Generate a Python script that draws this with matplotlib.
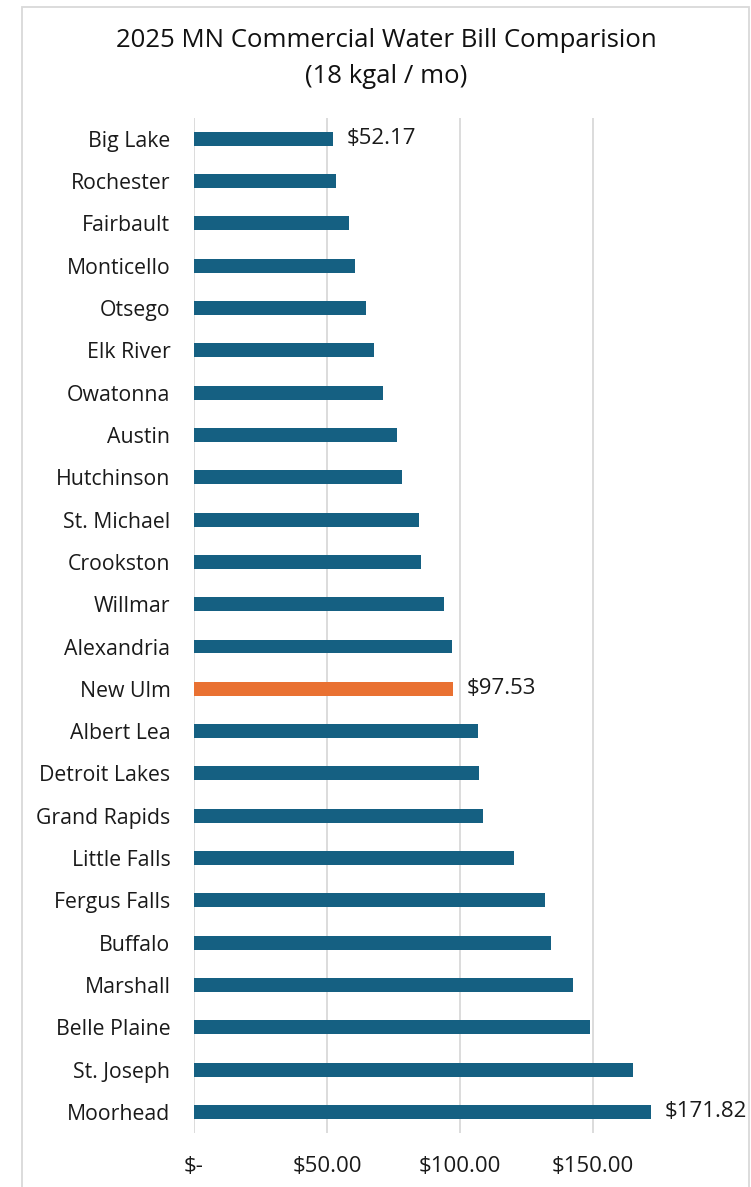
import matplotlib
matplotlib.use("Agg")
import matplotlib.pyplot as plt
from matplotlib.patches import Rectangle

cities = ["Big Lake", "Rochester", "Fairbault", "Monticello", "Otsego", "Elk River",
          "Owatonna", "Austin", "Hutchinson", "St. Michael", "Crookston", "Willmar",
          "Alexandria", "New Ulm", "Albert Lea", "Detroit Lakes", "Grand Rapids",
          "Little Falls", "Fergus Falls", "Buffalo", "Marshall", "Belle Plaine",
          "St. Joseph", "Moorhead"]
bills = [52.17, 53.3, 58.5, 60.5, 64.8, 67.8, 71.0, 76.3, 78.2, 84.5, 85.5, 94.0,
         96.9, 97.53, 107.0, 107.4, 108.6, 120.4, 132.2, 134.2, 142.7, 148.9,
         165.3, 171.82]
highlight = "New Ulm"
labelled = ["Big Lake", "New Ulm", "Moorhead"]
xticks = [0, 50, 100, 150]
xtick_labels = ["$-", "$50.00", "$100.00", "$150.00"]

BLUE = "#156082"
ORANGE = "#E97132"
W, H = 751, 1187

plt.rcParams['font.family'] = ['Open Sans', 'DejaVu Sans']

fig = plt.figure(figsize=(W / 100, H / 100), dpi=100)
ax = fig.add_axes([194 / W, 54 / H, 505 / W, (1133 - 117.7) / H])

ypos = list(range(len(cities)))
colors = [ORANGE if c == highlight else BLUE for c in cities]
ax.barh(ypos, bills, height=0.33, color=colors, zorder=3)

for y, c, v in zip(ypos, cities, bills):
    if c in labelled:
        ax.annotate(f"${v:.2f}", (v, y), xytext=(10, 0), textcoords="offset points",
                    va="center", ha="left", fontsize=16, color="#1a1a1a")

ax.set_xlim(0, 190)
ax.set_ylim(len(cities) - 0.5, -0.5)
ax.set_yticks(ypos)
ax.set_yticklabels(cities, fontsize=15.3, color="#1a1a1a")
ax.set_xticks(xticks)
ax.set_xticklabels(xtick_labels, fontsize=16, color="#1a1a1a")
ax.tick_params(axis="both", length=0)
ax.tick_params(axis="y", pad=17)
ax.tick_params(axis="x", pad=16.5)
ax.grid(axis="x", color="#d9d9d9", lw=1.3, zorder=0)
for s in ax.spines.values():
    s.set_visible(False)

fig.text(386 / W, 1 - 58.5 / H, "2025 MN Commercial Water Bill Comparision\n(18 kgal / mo)",
         ha="center", va="center", fontsize=18.5, linespacing=1.55, color="#111111")

# chart area border (cropped at the bottom)
fig.patches.append(Rectangle((22 / W, -0.05), (749 - 22) / W, 1.05 - 7 / H,
                             transform=fig.transFigure, fill=False,
                             edgecolor="#d9d9d9", lw=1.3))

fig.savefig("out.png", dpi=100)
